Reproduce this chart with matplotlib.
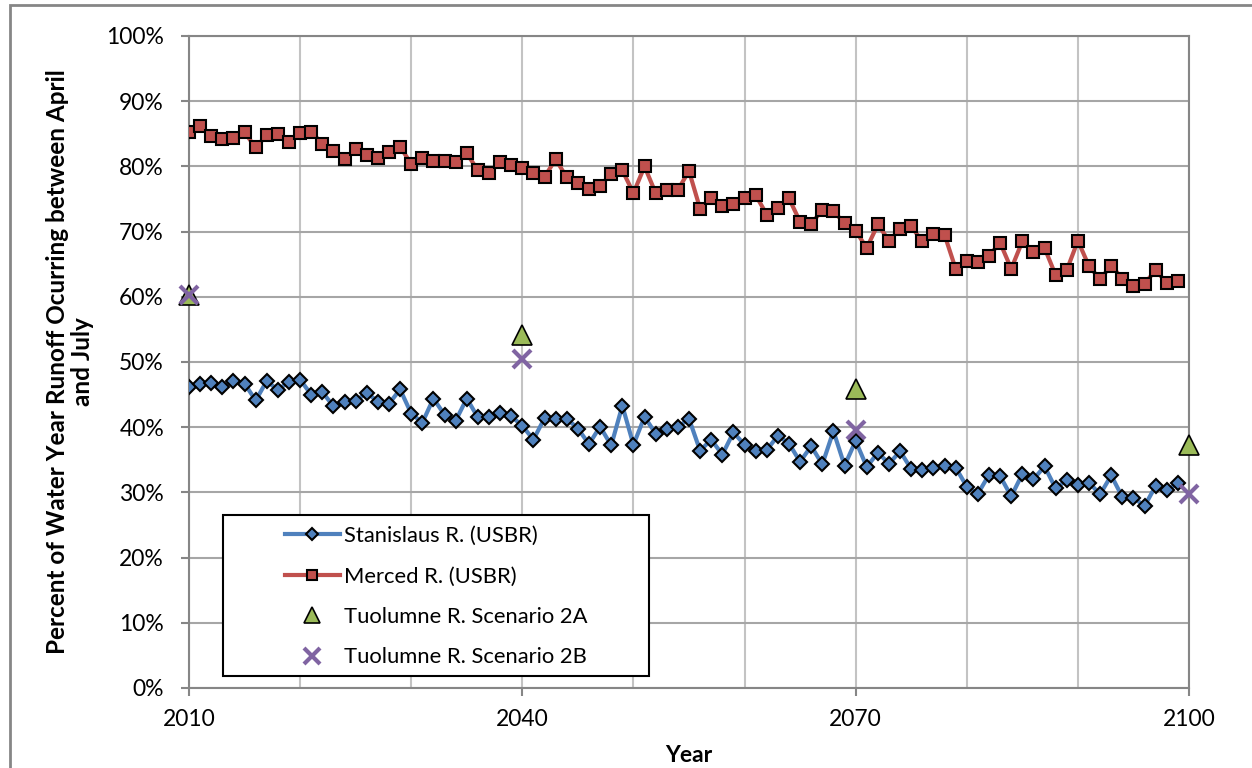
import numpy as np
import matplotlib.pyplot as plt
from matplotlib.ticker import MultipleLocator, FuncFormatter

years = np.arange(2010, 2100)

stanislaus = [46.1, 46.7, 46.8, 46.1, 47.1, 46.7, 44.1, 47.1, 45.7, 47.0,
              47.3, 45.0, 45.4, 43.2, 43.9, 44.0, 45.3, 43.9, 43.6, 45.8,
              42.1, 40.7, 44.4, 41.9, 41.0, 44.4, 41.5, 41.6, 42.2, 41.7,
              40.2, 38.1, 41.4, 41.3, 41.3, 39.8, 37.4, 40.1, 37.2, 43.3,
              37.3, 41.6, 39.0, 39.8, 40.0, 41.3, 36.4, 38.1, 35.8, 39.2,
              37.3, 36.3, 36.5, 38.7, 37.5, 34.7, 37.1, 34.3, 39.4, 34.1,
              37.9, 33.9, 36.1, 34.4, 36.3, 33.6, 33.4, 33.8, 34.1, 33.8,
              30.9, 29.8, 32.7, 32.5, 29.4, 32.8, 32.0, 34.0, 30.6, 31.9,
              31.1, 31.5, 29.7, 32.6, 29.3, 29.2, 27.9, 31.0, 30.3, 31.4]

merced = [85.2, 86.2, 84.6, 84.2, 84.4, 85.2, 82.9, 84.8, 85.0, 83.7,
          85.1, 85.3, 83.5, 82.3, 81.1, 82.7, 81.8, 81.3, 82.2, 83.0,
          80.4, 81.3, 80.9, 80.9, 80.6, 82.0, 79.4, 79.0, 80.6, 80.2,
          79.7, 79.0, 78.4, 81.1, 78.3, 77.5, 76.5, 77.0, 78.9, 79.4,
          75.9, 80.0, 75.9, 76.4, 76.4, 79.3, 73.5, 75.2, 74.0, 74.2,
          75.2, 75.6, 72.6, 73.6, 75.1, 71.5, 71.2, 73.3, 73.1, 71.3,
          70.1, 67.5, 71.1, 68.6, 70.4, 70.8, 68.5, 69.7, 69.5, 64.3,
          65.5, 65.3, 66.3, 68.3, 64.3, 68.5, 66.9, 67.5, 63.3, 64.1,
          68.6, 64.7, 62.7, 64.8, 62.8, 61.6, 62.0, 64.1, 62.1, 62.4]

scen_years = [2010, 2040, 2070, 2100]
scen_2a = [60.2, 54.1, 45.8, 37.3]
scen_2b = [60.3, 50.4, 39.5, 29.8]

plt.rcParams['font.family'] = ['Lato', 'DejaVu Sans']

W, H = 1252, 768
fig = plt.figure(figsize=(W / 100, H / 100), dpi=100)
ax = fig.add_axes([189 / W, 80 / H, 1000 / W, 652 / H])

ax.plot(years, stanislaus, color='#4f81bd', lw=3, marker='D', ms=7,
        mfc='#4f81bd', mec='black', mew=1.5, label='Stanislaus R. (USBR)', zorder=3)
ax.plot(years, merced, color='#c0504d', lw=3, marker='s', ms=9,
        mfc='#c0504d', mec='black', mew=1.5, label='Merced R. (USBR)', zorder=3)
ax.plot(scen_years, scen_2a, ls='none', marker='^', ms=14, mfc='#9bbb59',
        mec='black', mew=1.2, label='Tuolumne R. Scenario 2A', zorder=4, clip_on=False)
ax.plot(scen_years, scen_2b, ls='none', marker='x', ms=13, mec='#8064a2',
        mew=3, label='Tuolumne R. Scenario 2B', zorder=5, clip_on=False)

ax.set_xlim(2010, 2100)
ax.set_ylim(0, 100)
ax.xaxis.set_major_locator(MultipleLocator(30))
ax.xaxis.set_minor_locator(MultipleLocator(10))
ax.yaxis.set_major_locator(MultipleLocator(10))
ax.yaxis.set_major_formatter(FuncFormatter(lambda v, p: f'{v:.0f}%'))
ax.grid(True, which='both', axis='x', color='#c3c3c3', lw=1.5)
ax.grid(True, which='major', axis='y', color='#a6a6a6', lw=1.5)
ax.set_axisbelow(True)
ax.tick_params(axis='both', labelsize=16.5, length=6, width=1.5, color='#868686')
ax.tick_params(axis='x', which='minor', length=0)
ax.tick_params(axis='x', pad=9)
ax.tick_params(axis='y', pad=12)
for s in ax.spines.values():
    s.set_color('#868686')
    s.set_linewidth(1.5)

ax.set_xlabel('Year', fontsize=16.5, fontweight='bold', labelpad=11)
ax.set_ylabel('Percent of Water Year Runoff Ocurring between April\nand July',
              fontsize=17.5, fontweight='bold', linespacing=1.1)
ax.yaxis.set_label_coords(-0.095, 0.5)

# legend box like the Excel one
ax.add_patch(plt.Rectangle((223 / W, 1 - 676 / H), 426 / W, 161 / H,
                           transform=fig.transFigure, facecolor='white',
                           edgecolor='black', lw=1.5, zorder=6, clip_on=False))
leg = ax.legend(loc='upper left', bbox_to_anchor=(285 / W, 1 - 526 / H),
                bbox_transform=fig.transFigure, fontsize=15.8, frameon=False,
                borderpad=0, borderaxespad=0, labelspacing=0.93,
                handlelength=2.5, handletextpad=0.2, markerscale=0.85)
leg.set_zorder(7)

fig.patches.append(plt.Rectangle((10 / W, -0.1), 1.2, 1.1 - 5 / H,
                                 transform=fig.transFigure, fill=False,
                                 edgecolor='#868686', lw=2))

fig.savefig('out.png', dpi=100)
